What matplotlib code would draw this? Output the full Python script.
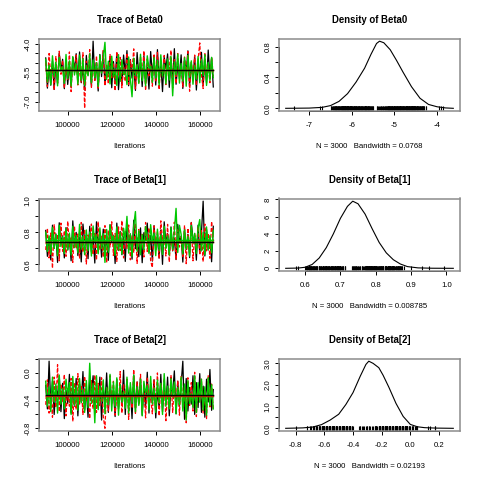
import numpy as np
import matplotlib
matplotlib.use("Agg")
import matplotlib.pyplot as plt

plt.rcParams['font.family'] = ['Liberation Sans', 'DejaVu Sans']

# sampled values, 3 chains per parameter (estimated from the trace plots)
black0 = [
    -4.73, -6.30, -5.17, -6.15, -4.90, -6.37, -5.05, -6.05, -4.47, -5.38,
    -4.80, -6.33, -4.97, -6.11, -5.10, -6.25, -4.70, -5.32, -4.51, -5.85,
    -4.42, -6.02, -5.22, -6.40, -4.60, -5.62, -4.85, -6.20, -3.86, -5.90,
    -5.00, -6.45, -4.55, -5.70, -4.38, -6.12, -5.12, -5.55, -4.66, -6.28,
    -4.92, -5.95, -4.48, -6.38, -5.25, -6.08, -4.58, -5.50, -4.35, -6.18,
    -4.82, -5.78, -5.08, -6.42, -4.45, -5.66, -4.95, -6.22, -4.62, -6.00,
    -5.20, -6.35, -4.40, -5.58, -4.75, -6.14, -4.30, -5.82, -5.02, -6.48,
    -4.68, -5.28, -4.52, -6.26, -4.88, -5.92, -4.25, -6.10, -5.15, -5.68,
    -4.57, -6.32, -4.78, -5.52, -4.36, -6.20, -4.98, -5.88, -4.63, -6.40,
    -5.06, -5.60, -4.44, -6.16, -4.86, -6.04, -4.32, -5.74, -4.72, -6.24]
red0 = [
    -4.95, -6.22, -4.50, -5.72, -5.15, -6.40, -4.66, -6.05, -4.38, -5.58,
    -4.85, -6.30, -5.08, -5.84, -4.42, -6.48, -4.74, -5.50, -4.58, -6.14,
    -5.18, -6.02, -4.46, -7.35, -4.90, -5.64, -4.30, -6.26, -5.02, -5.90,
    -4.62, -6.36, -4.80, -5.36, -4.34, -6.18, -5.12, -6.08, -4.55, -5.76,
    -4.98, -6.44, -4.40, -5.62, -4.70, -6.28, -5.22, -5.95, -4.48, -6.10,
    -4.88, -5.42, -4.26, -6.34, -5.05, -6.00, -4.64, -5.80, -4.36, -6.42,
    -4.78, -5.66, -5.10, -6.20, -4.52, -5.98, -4.44, -6.38, -4.92, -5.70,
    -4.60, -6.12, -5.00, -5.30, -4.33, -6.30, -4.82, -6.06, -4.50, -5.86,
    -5.14, -6.24, -4.68, -5.56, -4.40, -6.46, -4.96, -5.92, -4.58, -6.16,
    -4.86, -3.95, -5.60, -6.32, -4.46, -5.78, -5.04, -6.02, -4.70, -5.68]
green0 = [
    -4.80, -5.98, -5.10, -6.12, -4.62, -5.70, -4.95, -6.18, -4.70, -5.40,
    -5.20, -6.05, -4.55, -5.80, -4.88, -6.20, -4.66, -5.62, -5.04, -6.10,
    -4.58, -5.90, -4.76, -6.15, -5.12, -5.66, -4.52, -6.02, -4.84, -5.75,
    -4.98, -6.22, -4.60, -5.52, -4.72, -3.92, -5.85, -4.90, -6.08, -4.64,
    -5.72, -5.31, -6.16, -4.56, -5.95, -4.82, -5.60, -5.34, -6.12, -4.68,
    -5.82, -6.75, -4.74, -5.64, -5.08, -6.06, -4.54, -5.92, -4.92, -6.18,
    -4.62, -5.27, -5.16, -6.00, -4.70, -5.78, -4.86, -6.14, -4.57, -5.68,
    -5.06, -6.08, -4.78, -5.88, -4.65, -6.70, -4.94, -5.62, -4.53, -6.04,
    -5.02, -5.94, -4.72, -6.20, -4.60, -5.74, -4.88, -6.10, -5.12, -5.84,
    -4.66, -6.02, -4.80, -5.66, -4.56, -6.16, -4.96, -5.90, -4.70, -5.76]

black1 = [
    0.812, 0.650, 0.770, 0.628, 0.845, 0.700, 0.790, 0.612, 0.860, 0.738,
    0.778, 0.640, 0.830, 0.690, 0.762, 0.622, 0.872, 0.705, 0.800, 0.655,
    0.768, 0.615, 0.852, 0.748, 0.785, 0.635, 0.838, 0.680, 0.775, 0.608,
    0.866, 0.712, 0.795, 0.645, 0.820, 0.695, 0.760, 0.625, 0.848, 0.742,
    0.782, 0.605, 0.858, 0.686, 0.805, 0.660, 0.772, 0.618, 0.840, 0.708,
    0.790, 0.632, 0.876, 0.698, 0.765, 0.648, 0.828, 0.610, 0.798, 0.752,
    0.858, 0.676, 0.780, 0.620, 0.842, 0.702, 0.770, 0.640, 0.815, 0.600,
    0.866, 0.735, 0.792, 0.658, 0.834, 0.684, 0.762, 0.630, 0.850, 0.744,
    0.776, 0.614, 0.822, 0.692, 0.788, 0.642, 0.862, 0.756, 0.772, 0.626,
    0.845, 0.668, 0.798, 0.995, 0.652, 0.818, 0.690, 0.770, 0.616, 0.838]
red1 = [
    0.690, 0.826, 0.640, 0.796, 0.575, 0.848, 0.738, 0.780, 0.622, 0.858,
    0.682, 0.810, 0.650, 0.870, 0.712, 0.772, 0.612, 0.838, 0.698, 0.790,
    0.635, 0.862, 0.676, 0.820, 0.602, 0.784, 0.745, 0.852, 0.660, 0.800,
    0.626, 0.868, 0.694, 0.776, 0.645, 0.842, 0.610, 0.812, 0.708, 0.866,
    0.655, 0.792, 0.618, 0.834, 0.686, 0.874, 0.640, 0.804, 0.700, 0.846,
    0.628, 0.778, 0.672, 0.856, 0.606, 0.818, 0.732, 0.788, 0.646, 0.862,
    0.680, 0.828, 0.620, 0.580, 0.840, 0.692, 0.808, 0.634, 0.872, 0.750,
    0.782, 0.652, 0.850, 0.614, 0.798, 0.688, 0.864, 0.630, 0.816, 0.708,
    0.772, 0.642, 0.844, 0.604, 0.826, 0.676, 0.860, 0.622, 0.794, 0.696,
    0.836, 0.658, 0.810, 0.616, 0.852, 0.684, 0.786, 0.638, 0.868, 0.741]
green1 = [
    0.800, 0.680, 0.778, 0.662, 0.832, 0.700, 0.788, 0.654, 0.845, 0.712,
    0.772, 0.668, 0.822, 0.690, 0.795, 0.658, 0.838, 0.705, 0.782, 0.672,
    0.850, 0.695, 0.776, 0.660, 0.815, 0.685, 0.802, 0.652, 0.840, 0.737,
    0.785, 0.666, 0.828, 0.698, 0.792, 0.612, 0.818, 0.676, 0.846, 0.749,
    0.780, 0.656, 0.834, 0.688, 0.798, 0.664, 0.826, 0.755, 0.900, 0.670,
    0.790, 0.650, 0.842, 0.930, 0.682, 0.810, 0.660, 0.786, 0.692, 0.836,
    0.774, 0.668, 0.848, 0.743, 0.796, 0.654, 0.820, 0.686, 0.784, 0.662,
    0.838, 0.700, 0.778, 0.658, 0.830, 0.694, 0.808, 0.950, 0.674, 0.844,
    0.788, 0.664, 0.816, 0.698, 0.776, 0.652, 0.842, 0.733, 0.794, 0.668,
    0.826, 0.880, 0.684, 0.800, 0.660, 0.834, 0.690, 0.780, 0.672, 0.812]

black2 = [
    -0.18, -0.52, 0.17, -0.46, -0.12, -0.60, -0.22, -0.33, -0.05, -0.56,
    -0.15, -0.66, -0.25, -0.44, -0.02, -0.58, -0.20, -0.48, -0.08, -0.62,
    -0.16, -0.42, 0.02, -0.54, -0.24, -0.64, -0.10, -0.30, -0.04, -0.59,
    -0.19, -0.50, -0.06, -0.68, -0.21, -0.45, 0.00, -0.57, -0.14, -0.41,
    -0.26, -0.63, -0.09, -0.52, -0.17, -0.47, 0.04, -0.60, -0.11, -0.35,
    -0.23, -0.66, -0.03, -0.53, -0.13, -0.44, -0.07, -0.61, -0.20, -0.49,
    0.01, -0.58, -0.15, -0.43, -0.10, -0.65, -0.25, -0.51, -0.02, -0.56,
    -0.18, -0.46, -0.06, -0.62, -0.22, -0.28, 0.03, -0.59, -0.12, -0.48,
    -0.16, 0.17, -0.67, -0.08, -0.55, -0.21, -0.45, -0.04, -0.60, -0.14,
    -0.50, -0.01, -0.57, -0.19, -0.64, -0.09, -0.42, 0.05, -0.54, -0.24]
red2 = [
    -0.46, -0.10, -0.58, -0.29, -0.64, -0.06, -0.50, 0.12, -0.56, -0.16,
    -0.42, -0.02, -0.62, -0.22, -0.48, -0.08, -0.70, -0.14, -0.53, -0.01,
    -0.45, -0.18, -0.60, -0.05, -0.40, -0.34, -0.66, -0.11, -0.52, -0.03,
    -0.57, -0.15, -0.47, -0.07, -0.63, -0.80, -0.20, -0.55, -0.04, -0.44,
    -0.12, -0.61, -0.31, -0.49, 0.02, -0.58, -0.17, -0.43, -0.09, -0.67,
    -0.21, -0.51, 0.05, -0.60, -0.13, -0.46, -0.02, -0.54, -0.19, -0.65,
    -0.06, -0.41, -0.36, -0.59, -0.10, -0.48, 0.00, -0.62, -0.15, -0.44,
    -0.08, -0.69, -0.25, -0.52, -0.03, -0.57, -0.18, -0.45, -0.11, -0.61,
    -0.05, -0.50, -0.21, -0.72, -0.07, -0.47, -0.14, -0.55, 0.01, -0.63,
    -0.19, -0.42, -0.09, -0.58, -0.24, -0.66, -0.04, -0.49, -0.16, -0.53]
green2 = [
    -0.12, -0.48, -0.20, -0.56, -0.06, -0.42, -0.16, -0.58, -0.03, -0.45,
    -0.22, -0.52, -0.09, -0.32, -0.14, -0.60, -0.05, -0.47, -0.18, -0.54,
    -0.08, -0.43, -0.24, -0.57, -0.11, -0.50, 0.14, -0.44, -0.15, -0.72,
    -0.04, -0.53, -0.19, -0.41, -0.10, -0.59, -0.21, -0.46, -0.02, -0.55,
    -0.13, -0.49, -0.07, -0.61, -0.17, -0.42, -0.27, -0.51, -0.06, -0.58,
    -0.14, -0.44, -0.03, -0.56, -0.20, -0.47, -0.09, -0.62, -0.12, -0.29,
    -0.18, -0.53, -0.05, -0.45, -0.22, -0.57, -0.10, -0.43, -0.15, -0.60,
    -0.01, -0.48, -0.19, -0.52, -0.08, -0.35, -0.13, -0.59, -0.21, -0.46,
    -0.06, -0.55, -0.16, -0.68, -0.11, -0.44, -0.30, -0.50, -0.04, -0.57,
    -0.14, -0.42, -0.09, -0.54, -0.20, -0.61, -0.07, -0.47, -0.17, -0.52]

# density curves
dens0_x = [-7.55, -7.0, -6.7, -6.5, -6.3, -6.1, -5.9, -5.7, -5.55, -5.42, -5.35,
           -5.25, -5.1, -4.95, -4.8, -4.6, -4.4, -4.2, -4.0, -3.8, -3.62]
dens0_y = [0.0, 0.003, 0.012, 0.035, 0.09, 0.19, 0.34, 0.52, 0.70, 0.84, 0.87,
           0.85, 0.76, 0.62, 0.47, 0.28, 0.13, 0.05, 0.02, 0.005, 0.0]
dens1_x = [0.545, 0.58, 0.60, 0.62, 0.64, 0.66, 0.68, 0.70, 0.72, 0.735, 0.75,
           0.77, 0.79, 0.81, 0.83, 0.85, 0.87, 0.89, 0.92, 0.96, 1.02]
dens1_y = [0.0, 0.03, 0.12, 0.45, 1.2, 2.4, 4.0, 5.8, 7.2, 7.8, 7.5,
           6.3, 4.6, 3.0, 1.8, 1.0, 0.5, 0.2, 0.05, 0.01, 0.0]
dens2_x = [-0.87, -0.75, -0.68, -0.62, -0.56, -0.50, -0.45, -0.40, -0.35, -0.31, -0.29,
           -0.26, -0.22, -0.19, -0.15, -0.10, -0.05, 0.0, 0.05, 0.10, 0.18, 0.30]
dens2_y = [0.0, 0.02, 0.06, 0.17, 0.38, 0.65, 1.10, 1.65, 2.40, 2.95, 3.10,
           3.00, 2.80, 2.45, 1.90, 1.15, 0.55, 0.18, 0.07, 0.03, 0.01, 0.0]

names = ["Beta0", "Beta[1]", "Beta[2]"]
bandwidths = ["0.0768", "0.008785", "0.02193"]
chains = [[black0, red0, green0], [black1, red1, green1], [black2, red2, green2]]
dens = [(dens0_x, dens0_y), (dens1_x, dens1_y), (dens2_x, dens2_y)]
iterations = np.linspace(90100, 165900, len(black0))

trace_yticks = [([-7.0, -6.5, -6.0, -5.5, -5.0, -4.5, -4.0], {-7.0: "-7.0", -5.5: "-5.5", -4.0: "-4.0"}),
                ([0.6, 0.7, 0.8, 0.9, 1.0], {0.6: "0.6", 0.8: "0.8", 1.0: "1.0"}),
                ([-0.8, -0.6, -0.4, -0.2, 0.0, 0.2], {-0.8: "-0.8", -0.4: "-0.4", 0.0: "0.0"})]
dens_xticks = [([-7, -6, -5, -4], ["-7", "-6", "-5", "-4"]),
               ([0.6, 0.7, 0.8, 0.9, 1.0], ["0.6", "0.7", "0.8", "0.9", "1.0"]),
               ([-0.8, -0.6, -0.4, -0.2, 0.0, 0.2], ["-0.8", "-0.6", "-0.4", "-0.2", "0.0", "0.2"])]
dens_yticks = [([0.0, 0.2, 0.4, 0.6, 0.8], {0.0: "0.0", 0.4: "0.4", 0.8: "0.8"}),
               ([0, 2, 4, 6, 8], {0: "0", 2: "2", 4: "4", 6: "6", 8: "8"}),
               ([0.0, 0.5, 1.0, 1.5, 2.0, 2.5, 3.0], {0.0: "0.0", 1.0: "1.0", 2.0: "2.0", 3.0: "3.0"})]

colors = ["black", "#FF0000", "#00C800"]
styles = ["-", (0, (3, 1.5)), "-"]
widths = [0.9, 0.9, 1.0]

W = H = 480.0
BW, BH = 181.0, 72.5
tops = [38.5, 198.5, 358.5]
lefts = [39.0, 279.0]
FS = 5.6

fig = plt.figure(figsize=(4.8, 4.8), dpi=100)


def padded(lo, hi):
    d = (hi - lo) * 0.04
    return lo - d, hi + d


def finish(ax, xt, xl, yt, ylmap, title, sub):
    x0, x1 = ax.get_xlim()
    y0, y1 = ax.get_ylim()
    xt2 = [(t, l) for t, l in zip(xt, xl) if x0 <= t <= x1]
    yt2 = [t for t in yt if y0 <= t <= y1]
    ax.set_xticks([t for t, l in xt2])
    ax.set_xticklabels([l for t, l in xt2])
    ax.set_yticks(yt2)
    ax.set_yticklabels([ylmap.get(t, "") for t in yt2], rotation=90)
    for lab in ax.get_yticklabels():
        lab.set_va("center")
    ax.tick_params(length=2.9, width=0.7, labelsize=FS, color="black")
    ax.tick_params(axis="x", pad=5.0)
    ax.tick_params(axis="y", pad=2.5)
    for s in ax.spines.values():
        s.set_color("#8c8c8c")
        s.set_linewidth(1.1)
    # R style axis lines from first to last tick
    ax.plot([xt2[0][0], xt2[-1][0]], [0, 0], transform=ax.get_xaxis_transform(),
            color="black", lw=0.7, clip_on=False)
    ax.plot([0, 0], [yt2[0], yt2[-1]], transform=ax.get_yaxis_transform(),
            color="black", lw=0.7, clip_on=False)
    ax.set_xlim(x0, x1)
    ax.set_ylim(y0, y1)
    ax.text(0.5, 1 + 18.5 / BH, title, transform=ax.transAxes, ha="center",
            va="center", fontsize=6.9, fontweight="bold")
    ax.text(0.5, -35.0 / BH, sub, transform=ax.transAxes, ha="center",
            va="center", fontsize=FS)


for r in range(3):
    # trace plot
    ax = fig.add_axes([lefts[0] / W, 1 - (tops[r] + BH) / H, BW / W, BH / H])
    for k in range(3):
        ax.plot(iterations, chains[r][k], color=colors[k], linestyle=styles[k],
                lw=widths[k])
    # chain mean lines, black drawn last
    for k in [1, 2, 0]:
        ax.plot([iterations[0], iterations[-1]], [np.mean(chains[r][k])] * 2,
                color=colors[k], lw=1.0)
    allv = np.concatenate(chains[r])
    ax.set_xlim(*padded(iterations[0], iterations[-1]))
    ax.set_ylim(*padded(allv.min(), allv.max()))
    finish(ax, [100000, 120000, 140000, 160000],
           ["100000", "120000", "140000", "160000"],
           trace_yticks[r][0], trace_yticks[r][1],
           "Trace of " + names[r], "Iterations")

    # density plot
    ax = fig.add_axes([lefts[1] / W, 1 - (tops[r] + BH) / H, BW / W, BH / H])
    dx, dy = dens[r]
    ax.plot(dx, dy, color="black", lw=0.8)
    ax.plot(allv, np.zeros(len(allv)), ls="none", marker="|", ms=3.0, mew=0.8,
            color="black")
    ax.set_xlim(*padded(min(dx), max(dx)))
    ax.set_ylim(*padded(0, max(dy)))
    finish(ax, dens_xticks[r][0], dens_xticks[r][1],
           dens_yticks[r][0], dens_yticks[r][1],
           "Density of " + names[r],
           "N = 3000   Bandwidth = " + bandwidths[r])

fig.savefig("out.png", dpi=100)
